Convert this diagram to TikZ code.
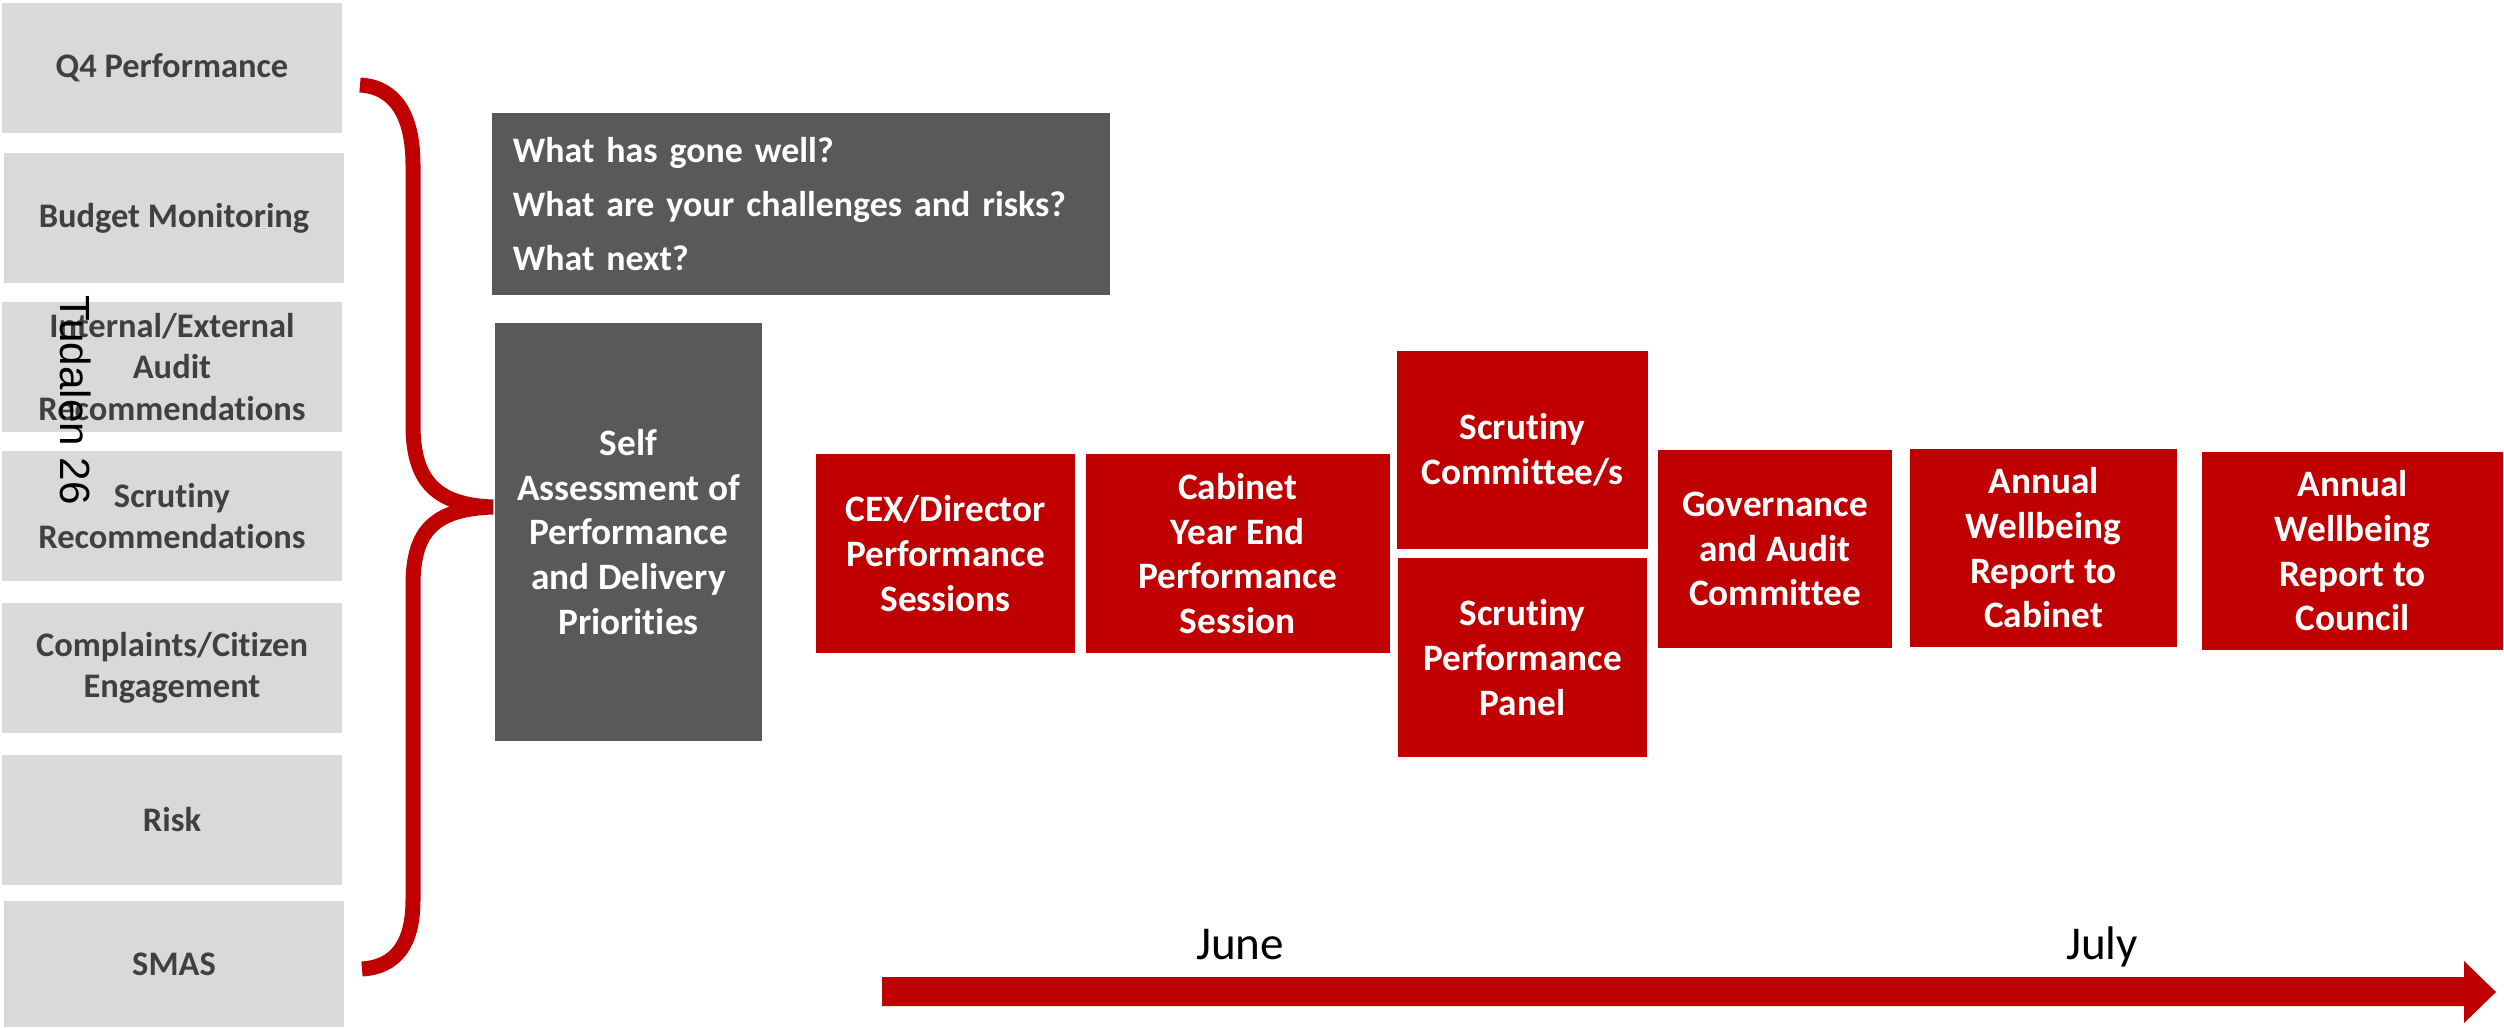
\documentclass[tikz,border=0pt]{standalone}
\usepackage{fontspec}
\setmainfont{Carlito}[Ligatures=NoCommon]
\newfontfamily\pagenofont{Liberation Sans}
\usetikzlibrary{positioning}

\definecolor{planred}{HTML}{C00000}
\definecolor{plangrey}{HTML}{595959}
\definecolor{inputgrey}{HTML}{D9D9D9}
\definecolor{inputtext}{HTML}{404040}

\begin{document}
\begin{tikzpicture}[
                x=0.01cm, y=-0.01cm,
                input/.style={fill=inputgrey, text=inputtext, minimum width=3.4cm, minimum height=1.3cm, inner sep=0pt, align=center, font=\fontsize{9.8}{11.7}\selectfont\bfseries},
                review/.style={fill=plangrey, text=white, inner sep=0pt, align=center, font=\fontsize{10.6}{12.7}\selectfont\bfseries},
                stage/.style={fill=planred, text=white, minimum height=1.98cm, inner sep=0pt, align=center, font=\fontsize{10.6}{12.7}\selectfont\bfseries},
                month/.style={anchor=base, font=\fontsize{13.4}{16}\selectfont},
            ]
                \useasboundingbox (0,0) rectangle (2504,1027);

                % Draw the input boxes on the left
                \node[input] (q4) at (172,68) {Q4 Performance};
                \node[input] (budget) at (174,218) {Budget Monitoring};
                \node[input] (audit) at (172,367) {Internal/External\\Audit\\Recommendations};
                \node[input] (scrutinyrec) at (172,516) {Scrutiny\\Recommendations};
                \node[input] (complaints) at (172,668) {Complaints/Citizen\\Engagement};
                \node[input] (risk) at (172,820) {Risk};
                \node[input, minimum height=1.26cm] (smas) at (174,964) {SMAS};

                % Page number stamped over the boxes
                \node[rotate=-90, font=\pagenofont\fontsize{12}{14}\selectfont] (pageno) at (76,400) {Tudalen 26};

                % Draw the brace gathering the inputs
                \draw[planred, line width=0.15cm] (360,85) .. controls (395,87) and (413,115) .. (413,165) -- (413,425)
                    .. controls (413,480) and (435,505) .. (493,507) .. controls (435,509) and (413,530) .. (413,585)
                    -- (413,900) .. controls (413,945) and (395,967) .. (362,969);

                % Draw the self assessment boxes
                \node[review, text width=5.76cm, align=left, inner xsep=0.21cm, minimum height=1.82cm, font=\fontsize{10.2}{15.4}\selectfont\bfseries] (questions) at (801,204) {What has gone well?\\What are your challenges and risks?\\What next?};
                \node[review, minimum width=2.67cm, minimum height=4.18cm] (self) at (628.5,532) {Self\\Assessment of\\Performance\\and Delivery\\Priorities};

                % Draw the reporting stages
                \node[stage, minimum width=2.59cm] (cex) at (945.5,553.5) {CEX/Director\\Performance\\Sessions};
                \node[stage, minimum width=3.04cm, right=0.09cm of cex] (cabinet) {Cabinet\\Year End\\Performance\\Session};
                \node[stage, minimum width=2.51cm] (scrcom) at (1522.5,450) {Scrutiny\\Committee/s};
                \node[stage, minimum width=2.49cm, below=0.08cm of scrcom] (scrpanel) {Scrutiny\\Performance\\Panel};
                \node[stage, minimum width=2.34cm] (gov) at (1775,549) {Governance\\and Audit\\Committee};
                \node[stage, minimum width=2.67cm] (awcab) at (2043.5,548) {Annual\\Wellbeing\\Report to\\Cabinet};
                \node[stage, minimum width=3.01cm] (awcouncil) at (2352.5,551) {Annual\\Wellbeing\\Report to\\Council};

                % Draw the timeline
                \fill[planred] (882,977) -- (2464,977) -- (2464,961) -- (2496,992) -- (2464,1023) -- (2464,1006) -- (882,1006) -- cycle;
                \node[month] (june) at (1240,959) {June};
                \node[month] (july) at (2102,959) {July};
            \end{tikzpicture}
\end{document}
